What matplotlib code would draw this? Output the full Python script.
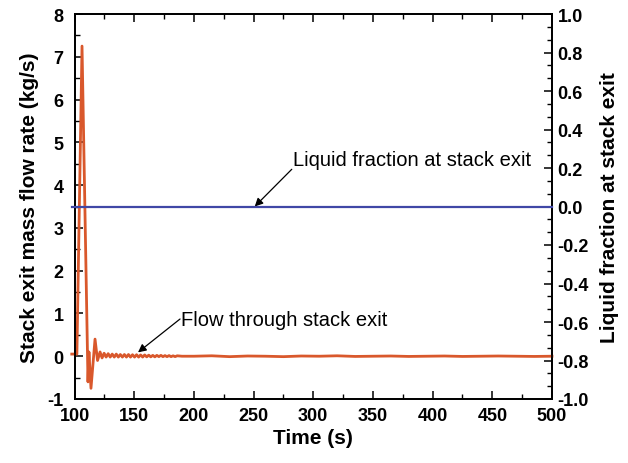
import matplotlib
matplotlib.use("Agg")
import matplotlib.pyplot as plt
from matplotlib.ticker import MultipleLocator

plt.rcParams['font.family'] = ['Liberation Sans', 'DejaVu Sans']

# Stack exit mass flow rate (kg/s)
flow_t = [97.7, 102.0, 106.3, 111.3, 112.1, 113.8, 117.2, 119.3, 121.4,
          123.1, 124.8, 126.5, 128.2, 129.9, 131.6, 133.3, 135.0, 136.7, 138.4,
          140.1, 141.8, 143.5, 145.2, 146.9, 148.6, 150.3, 152.0, 153.7, 155.4,
          157.1, 158.8, 160.5, 162.2, 163.9, 165.6, 167.3, 169.0, 170.7, 172.4,
          174.1, 175.8, 177.5, 179.2, 180.9, 182.6, 184.3, 186.0, 190.0,
          200, 215, 230, 245, 260, 275, 290, 305, 320, 335, 350, 365, 380,
          395, 410, 425, 440, 455, 470, 485, 500]
flow_v = [0.05, 0.05, 7.25, -0.6, 0.1, -0.75, 0.4, -0.1, 0.1,
          -0.04, 0.07, -0.02, 0.06, -0.02, 0.05, -0.02, 0.05, -0.02, 0.04,
          -0.02, 0.04, -0.02, 0.04, -0.02, 0.035, -0.02, 0.035, -0.02, 0.03,
          -0.02, 0.03, -0.015, 0.025, -0.015, 0.02, -0.015, 0.02, -0.01, 0.02,
          -0.01, 0.015, -0.01, 0.015, -0.01, 0.01, -0.01, 0.01, 0.0,
          0.0, 0.01, -0.01, 0.005, 0.0, -0.01, 0.005, 0.0, 0.01, -0.005, 0.0,
          0.005, -0.005, 0.0, 0.005, -0.005, 0.0, 0.005, 0.0, -0.005, 0.0]

# Liquid fraction at stack exit
liq_t = [97.7, 500]
liq_v = [0.0, 0.0]

x_ticks = [100, 150, 200, 250, 300, 350, 400, 450, 500]
left_ticks = [-1, 0, 1, 2, 3, 4, 5, 6, 7, 8]
right_ticks = [-1.0, -0.8, -0.6, -0.4, -0.2, 0.0, 0.2, 0.4, 0.6, 0.8, 1.0]

orange = '#d9582c'
blue = '#4047a6'

fig = plt.figure(figsize=(6.28, 4.64), dpi=100)
ax = fig.add_axes([74.5 / 628, 64 / 464, 477.5 / 628, 385 / 464])
ax2 = ax.twinx()

ax.plot(flow_t, flow_v, color=orange, lw=2.0, clip_on=False, zorder=3)
ax2.plot(liq_t, liq_v, color=blue, lw=1.6, clip_on=False, zorder=3)

ax.set_xlim(100, 500)
ax.set_ylim(-1, 8)
ax2.set_ylim(-1, 1)

ax.set_xticks(x_ticks)
ax.set_xticklabels([str(v) for v in x_ticks])
ax.set_yticks(left_ticks)
ax.set_yticklabels([str(v) for v in left_ticks])
ax2.set_yticks(right_ticks)
ax2.set_yticklabels([f"{v:.1f}" for v in right_ticks])
ax.xaxis.set_minor_locator(MultipleLocator(25))
ax.yaxis.set_minor_locator(MultipleLocator(0.5))
ax2.yaxis.set_minor_locator(MultipleLocator(0.2 / 3))

for a in (ax, ax2):
    for s in a.spines.values():
        s.set_linewidth(1.3)
ax.tick_params(axis='x', which='both', direction='in', top=True, bottom=True)
ax.tick_params(axis='y', which='both', direction='in', left=True, right=False)
ax.tick_params(which='major', length=6, width=1.1, labelsize=13)
ax.tick_params(which='minor', length=3.5, width=1.0)
ax.tick_params(axis='y', pad=8)
ax.tick_params(axis='x', pad=6)
ax2.tick_params(axis='y', which='both', direction='in', right=True, left=False)
ax2.tick_params(which='major', length=6, width=1.1, labelsize=13, pad=4)
ax2.tick_params(which='minor', length=3.5, width=1.0)
for lab in ax.get_xticklabels() + ax.get_yticklabels() + ax2.get_yticklabels():
    lab.set_fontweight('bold')

ax.set_xlabel('Time (s)', fontsize=15, fontweight='bold', labelpad=3)
ax.set_ylabel('Stack exit mass flow rate (kg/s)', fontsize=15, fontweight='bold', labelpad=6)
ax2.set_ylabel('Liquid fraction at stack exit', fontsize=15, fontweight='bold', labelpad=8)

arrow = dict(arrowstyle='-|>', color='black', lw=0.9, mutation_scale=12,
             shrinkA=0, shrinkB=0)
ax.annotate('', xy=(251, 3.5), xytext=(282, 4.37), arrowprops=arrow, zorder=5)
ax.text(283, 4.6, 'Liquid fraction at stack exit', fontsize=14.5,
        ha='left', va='center')
ax.annotate('', xy=(153.2, 0.09), xytext=(188.4, 0.87), arrowprops=arrow, zorder=5)
ax.text(189, 0.85, 'Flow through stack exit', fontsize=14.5,
        ha='left', va='center')

fig.savefig('out.png', dpi=100)
